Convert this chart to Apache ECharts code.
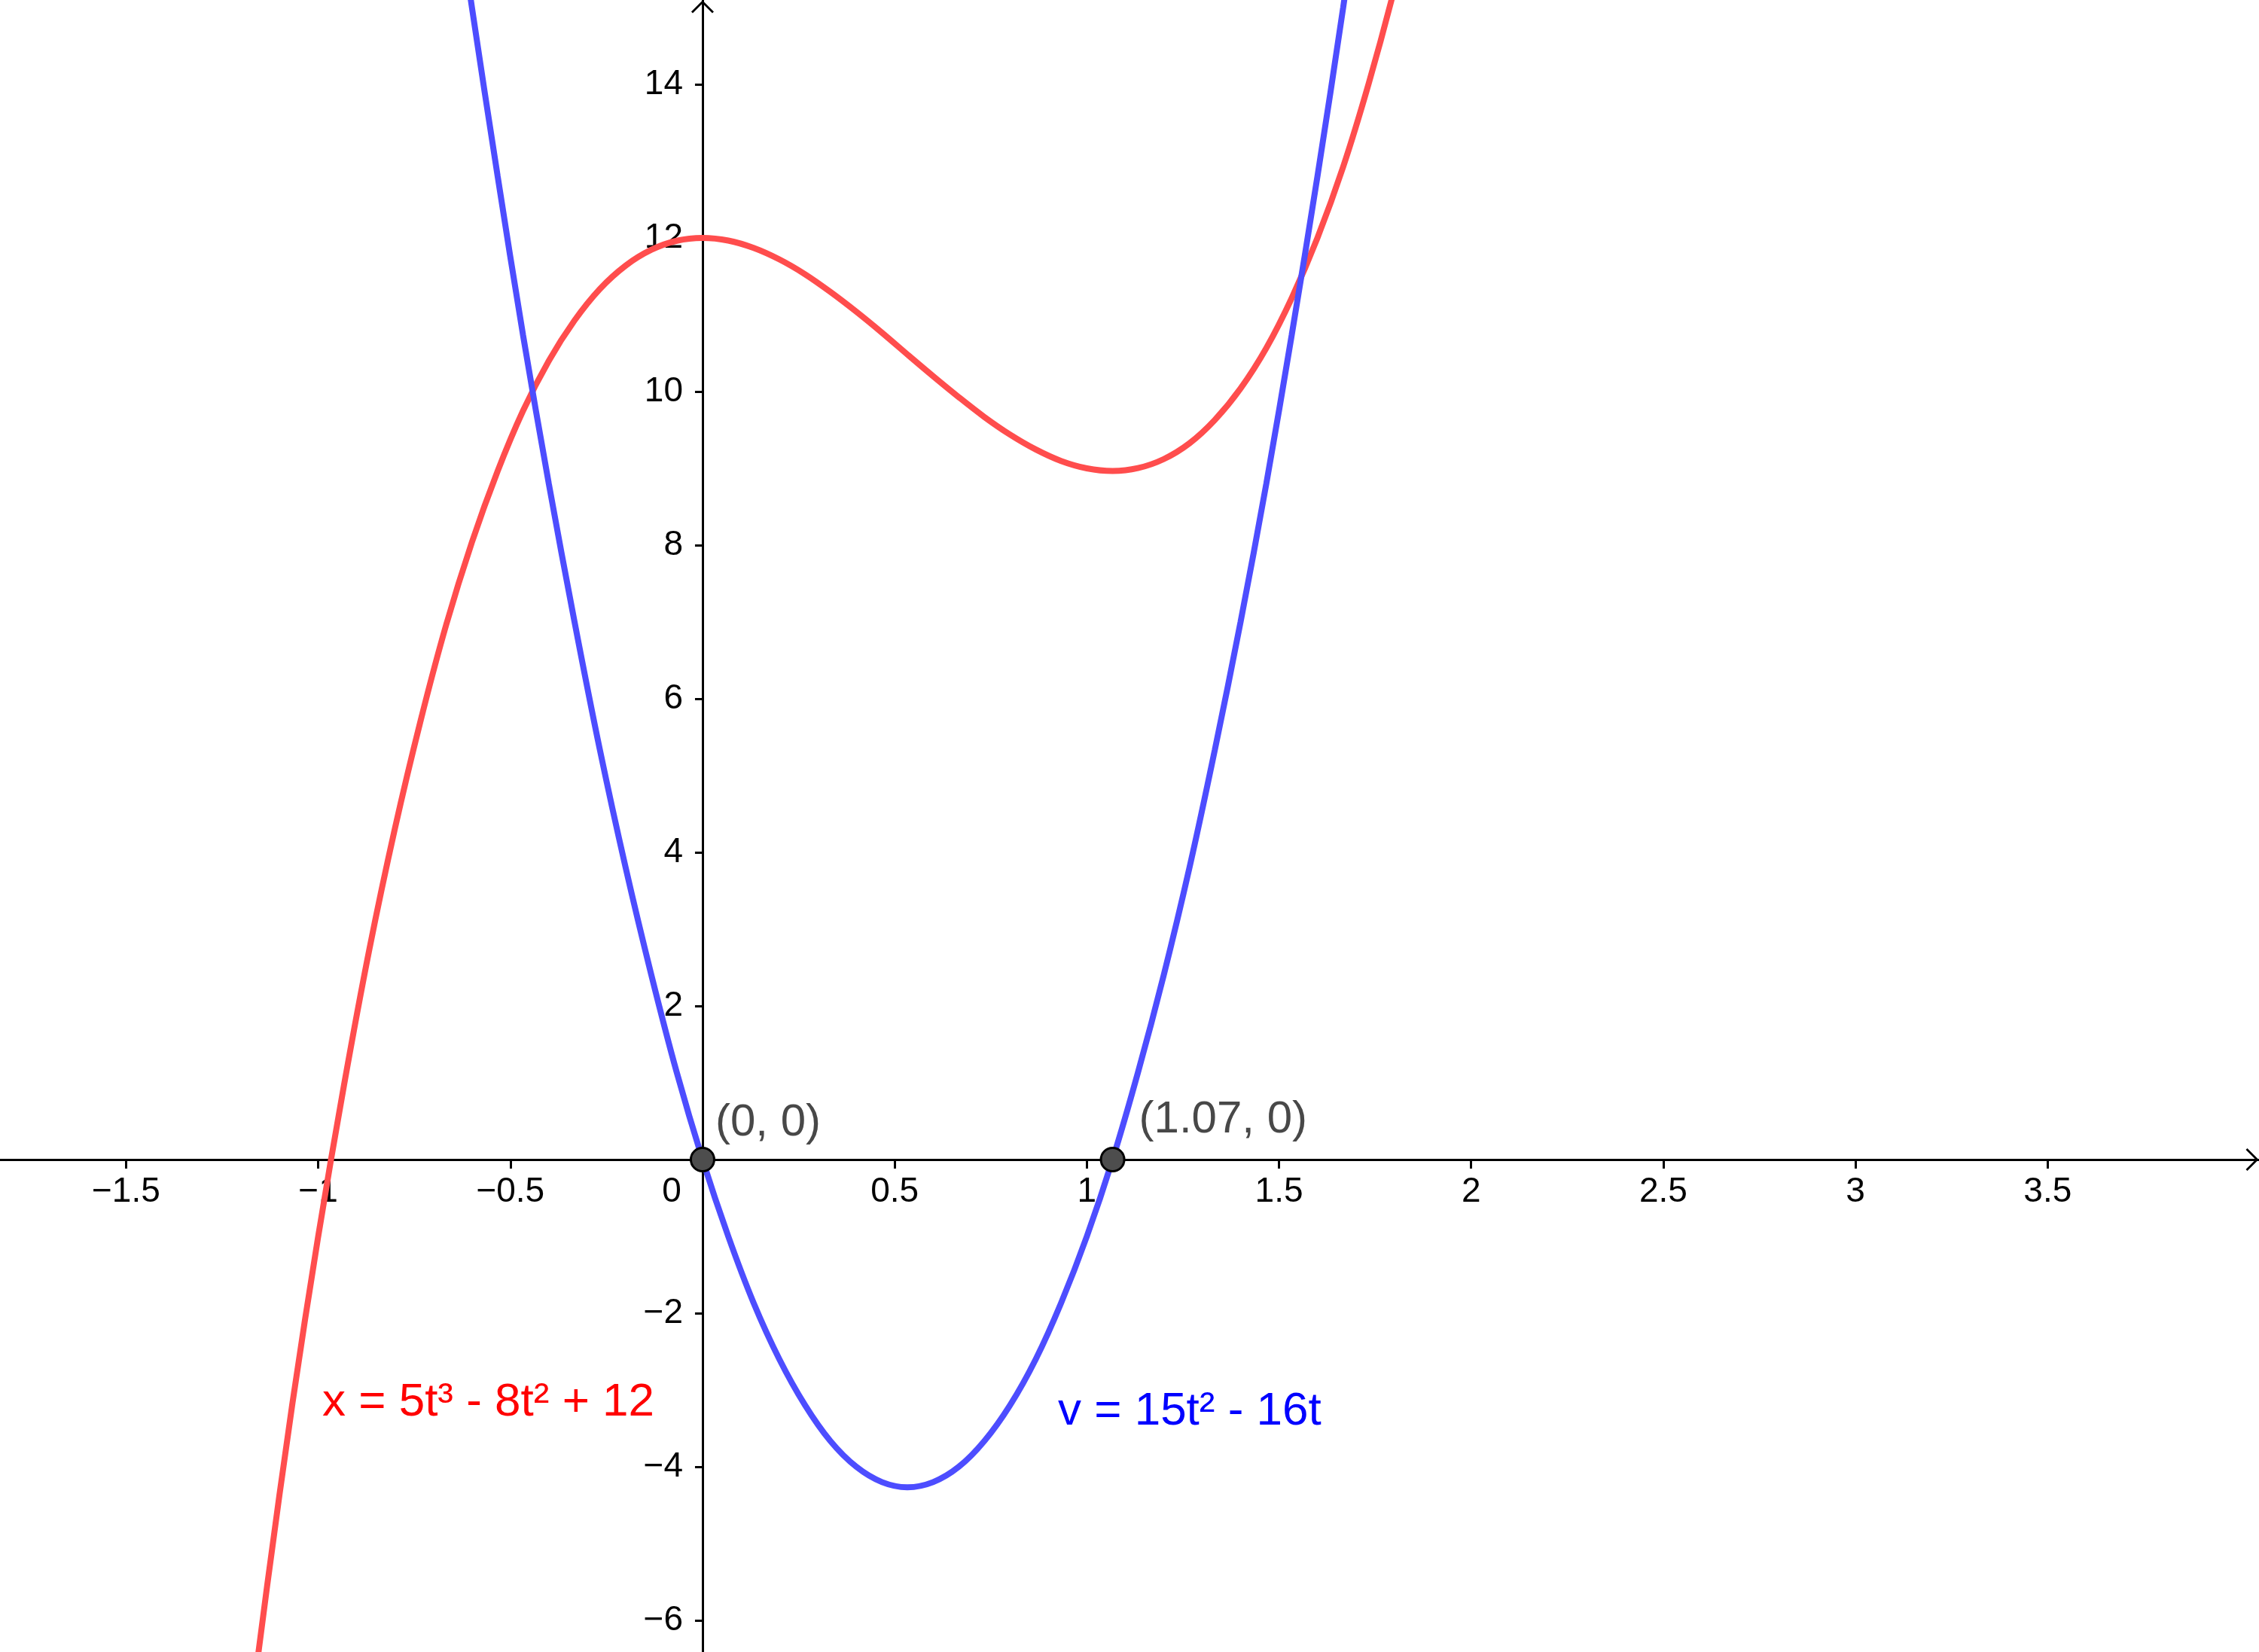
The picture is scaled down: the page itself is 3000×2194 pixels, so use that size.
<!DOCTYPE html>
<html>
<head>
<meta charset="utf-8">
<title>x(t) and v(t)</title>
<script src="https://cdn.jsdelivr.net/npm/echarts@6.0.0/dist/echarts.min.js"></script>
<style>
html, body { margin: 0; padding: 0; background: #fff; }
#main { width: 3000px; height: 2194px; }
</style>
</head>
<body>
<div id="main"></div>
<script>
// x = 5t^3 - 8t^2 + 12
var tRed = [-1.2, -1.133, -1.067, -1, -0.933, -0.867, -0.8, -0.733, -0.667, -0.6, -0.533, -0.467,
            -0.4, -0.333, -0.267, -0.2, -0.133, -0.067, 0, 0.067, 0.133, 0.2, 0.267, 0.333,
            0.4, 0.467, 0.533, 0.6, 0.667, 0.733, 0.8, 0.867, 0.933, 1, 1.067, 1.133,
            1.2, 1.267, 1.333, 1.4, 1.467, 1.533, 1.6, 1.667, 1.733, 1.8, 1.867];
var xRed = [-8.16, -5.554, -3.17, -1, 0.966, 2.736, 4.32, 5.726, 6.963, 8.04, 8.966, 9.75,
            10.4, 10.926, 11.336, 11.64, 11.846, 11.963, 12, 11.966, 11.87, 11.72, 11.526, 11.296,
            11.04, 10.766, 10.483, 10.2, 9.926, 9.67, 9.44, 9.246, 9.096, 9, 8.966, 9.003,
            9.12, 9.326, 9.63, 10.04, 10.566, 11.216, 12, 12.926, 14.003, 15.24, 16.646];

// v = 15t^2 - 16t
var tBlue = [-0.667, -0.6, -0.533, -0.467, -0.4, -0.333, -0.267, -0.2, -0.133, -0.067,
             0, 0.067, 0.133, 0.2, 0.267, 0.333, 0.4, 0.467, 0.533, 0.6, 0.667, 0.733,
             0.8, 0.867, 0.933, 1, 1.067, 1.133, 1.2, 1.267, 1.333, 1.4, 1.467, 1.533,
             1.6, 1.667, 1.733];
var vBlue = [17.333, 15, 12.8, 10.733, 8.8, 7, 5.333, 3.8, 2.4, 1.133,
             0, -1, -1.867, -2.6, -3.2, -3.667, -4, -4.2, -4.267, -4.2, -4, -3.667,
             -3.2, -2.6, -1.867, -1, 0, 1.133, 2.4, 3.8, 5.333, 7, 8.8, 10.733,
             12.8, 15, 17.333];

// marked points
var pointT = [0, 1.067];
var pointV = [0, 0];
var pointNames = ['(0, 0)', '(1.07, 0)'];

// ticks and labels
var xTicks = [-1.5, -1, -0.5, 0.5, 1, 1.5, 2, 2.5, 3, 3.5];
var xLabels = [-1.5, -1, -0.5, 0, 0.5, 1, 1.5, 2, 2.5, 3, 3.5];
var yTicks = [-6, -4, -2, 2, 4, 6, 8, 10, 12, 14];

var font = 'Liberation Sans, Arial, sans-serif';
var arrow = 'path://M15,0L30,15L28,17L15,4L2,17L0,15Z';
var labelOffsets = [[0, -49], [18, -53]];

function fmt(v) {
    return v < 0 ? '\u2212' + (-v) : '' + v;
}

var myChart = echarts.init(document.getElementById('main'));

myChart.setOption({
    animation: false,
    grid: { left: 0, right: 0, top: 0, bottom: 0, containLabel: false, outerBoundsMode: 'none' },
    xAxis: {
        type: 'value',
        min: -1.828,
        max: 4.05,
        axisLine: {
            onZero: true,
            symbol: ['none', arrow],
            symbolSize: [30, 17],
            symbolOffset: [0, -9],
            lineStyle: { color: '#000', width: 3 }
        },
        axisTick: { show: true, length: 12, customValues: xTicks, lineStyle: { color: '#000', width: 3 } },
        axisLabel: {
            customValues: xLabels,
            margin: 20,
            fontSize: 46,
            fontFamily: font,
            color: '#000',
            formatter: function (v) {
                return v === 0 ? '{z|0}' : fmt(v);
            },
            rich: {
                z: { fontSize: 46, fontFamily: font, color: '#000', padding: [0, 82, 0, 0] }
            }
        },
        splitLine: { show: false }
    },
    yAxis: {
        type: 'value',
        min: -6.412,
        max: 15.098,
        axisLine: {
            onZero: true,
            symbol: ['none', arrow],
            symbolSize: [30, 17],
            symbolOffset: [0, -9],
            lineStyle: { color: '#000', width: 3 }
        },
        axisTick: { show: true, length: 10, customValues: yTicks, lineStyle: { color: '#000', width: 3 } },
        axisLabel: {
            customValues: yTicks,
            margin: 26,
            fontSize: 46,
            fontFamily: font,
            color: '#000',
            formatter: fmt
        },
        splitLine: { show: false }
    },
    series: [{
        name: 'x',
        type: 'line',
        data: tRed.map(function (t, i) { return [t, xRed[i]]; }),
        smooth: 0.33,
        symbol: 'none',
        lineStyle: { color: '#ff4d4d', width: 8 },
        z: 3
    }, {
        name: 'v',
        type: 'line',
        data: tBlue.map(function (t, i) { return [t, vBlue[i]]; }),
        smooth: 0.33,
        symbol: 'none',
        lineStyle: { color: '#4d4dff', width: 8 },
        z: 3
    }, {
        name: 'points',
        type: 'scatter',
        data: pointT.map(function (t, i) {
            return { value: [t, pointV[i]], name: pointNames[i], label: { offset: labelOffsets[i] } };
        }),
        symbolSize: 31,
        itemStyle: { color: '#4d4d4d', borderColor: '#000', borderWidth: 3, opacity: 1 },
        label: {
            show: true,
            position: 'right',
            distance: 0,
            formatter: '{b}',
            fontSize: 60,
            fontFamily: font,
            color: '#484848'
        },
        z: 5
    }],
    graphic: [{
        type: 'text',
        x: 428, y: 1863,
        style: { text: 'x = 5t³ - 8t² + 12', fill: '#ff0000', font: '62px ' + font, verticalAlign: 'middle' }
    }, {
        type: 'text',
        x: 1405, y: 1875,
        style: { text: 'v = 15t² - 16t', fill: '#0000ff', font: '62px ' + font, verticalAlign: 'middle' }
    }]
});

// the axis lines sit on zero, but the labels stay at the grid edge,
// so pull them in to the origin
var origin = myChart.convertToPixel({ gridIndex: 0 }, [0, 0]);
myChart.setOption({
    xAxis: { axisLabel: { margin: 20 - (myChart.getHeight() - origin[1]) } },
    yAxis: { axisLabel: { margin: 26 - origin[0] } }
});
</script>
</body>
</html>
